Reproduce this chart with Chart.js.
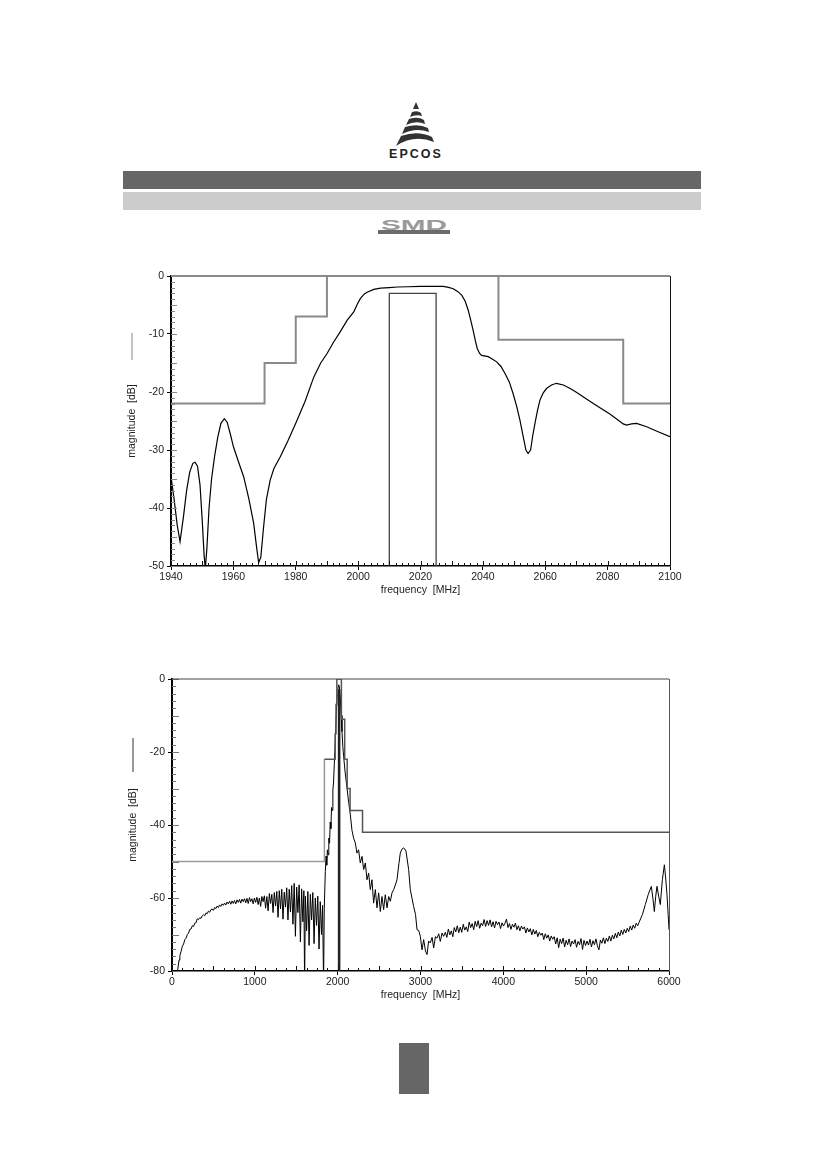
<!DOCTYPE html>
<html>
<head>
<meta charset="utf-8">
<title>EPCOS SAW filter - frequency response</title>
<script src="https://cdn.jsdelivr.net/npm/chart.js@4.4.1/dist/chart.umd.min.js"></script>
<style>
  html, body { margin: 0; padding: 0; background: #fff; }
  body { width: 826px; height: 1169px; position: relative; overflow: hidden; font-family: "Liberation Sans", Arial, sans-serif; }
  .logo { position: absolute; left: 394px; top: 102px; width: 44px; height: 46px; }
  .brand { position: absolute; left: 376px; top: 147px; width: 80px; text-align: center; font-weight: bold; font-size: 12.5px; letter-spacing: 2px; color: #222; }
  .bar-dark { position: absolute; left: 123px; top: 171px; width: 578px; height: 18px; background: #666; }
  .bar-light { position: absolute; left: 123px; top: 192px; width: 578px; height: 18px; background: #ccc; }
  .smd { position: absolute; left: 378px; top: 217px; width: 72px; height: 17px; }
  .page-tab { position: absolute; left: 399px; top: 1043px; width: 30px; height: 51px; background: #666; }
  .chart-box { position: absolute; left: 100px; width: 590px; }
  #narrowBox { top: 266px; height: 335px; }
  #wideBox { top: 669px; height: 337px; }
</style>
</head>
<body>

<svg class="logo" viewBox="0 0 44 46">
  <polygon points="22,0 25,7 19,7" fill="#333"/>
  <path d="M18,10 Q24,8 27,11 L28,14 Q22,12 16,15 Z" fill="#333"/>
  <path d="M15,17 Q24,14 30,18 L31,22 Q22,18 12,23 Z" fill="#333"/>
  <path d="M11,25 Q24,21 34,26 L35,30 Q22,25 8,32 Z" fill="#333"/>
  <path d="M7,34 Q24,28 38,35 L40,40 Q20,32 2,44 Z" fill="#333"/>
</svg>
<div class="brand">EPCOS</div>
<div class="bar-dark"></div>
<div class="bar-light"></div>
<svg class="smd" viewBox="0 0 72 17">
  <rect x="0" y="13" width="72" height="4" fill="#6b6b6b"/>
  <text x="36" y="12.5" text-anchor="middle" font-family="Liberation Sans" font-weight="bold" font-size="15" fill="#9a9a9a" textLength="66" lengthAdjust="spacingAndGlyphs">SMD</text>
</svg>

<div class="chart-box" id="narrowBox"><canvas id="narrowChart" width="590" height="335"></canvas></div>
<div class="chart-box" id="wideBox"><canvas id="wideChart" width="590" height="337"></canvas></div>

<div class="page-tab"></div>

<script>
// ---- upper plot: 1940 - 2100 MHz ----
const narrowTicksX = [1940, 1960, 1980, 2000, 2020, 2040, 2060, 2080, 2100];
const narrowTicksY = [0, -10, -20, -30, -40, -50];

// measured transfer function [MHz, dB]
const narrowResponse = [
  [1940, -34.6], [1941, -38.5], [1942, -43], [1942.9, -45.8], [1944, -41.5], [1945, -37],
  [1946, -33.8], [1947, -32.3], [1947.7, -32.1], [1948.5, -32.8], [1949.3, -36], [1950, -42],
  [1950.6, -48], [1951, -50.5], [1951.5, -47], [1952.2, -40], [1953, -35], [1954, -31],
  [1955, -27.8], [1956, -25.4], [1957.1, -24.6], [1958, -25.2], [1959, -27.2], [1960, -29.4],
  [1961.5, -31.8], [1963.3, -34.6], [1965, -38.5], [1966.5, -42.6], [1967.5, -47], [1968.1, -49.4],
  [1968.8, -48.5], [1969.7, -43.2], [1970.6, -38.5], [1971.8, -35.2], [1973, -33.2], [1975, -31.2],
  [1977.5, -28.4], [1980, -25.4], [1983, -21.6], [1985.8, -17.4], [1988, -15], [1990, -13.4],
  [1992, -11.5], [1994.3, -9.6], [1996.5, -7.6], [1998.6, -6.2], [1999.8, -4.8], [2000.7, -3.9],
  [2002, -3.1], [2002.9, -2.8], [2005, -2.3], [2007.2, -2.1], [2010, -2.0], [2012.6, -1.9],
  [2016, -1.85], [2020, -1.8], [2024, -1.8], [2027.3, -1.8], [2029, -1.95], [2030.5, -2.2],
  [2032, -2.7], [2033.2, -3.3], [2034.3, -4.3], [2035.3, -5.9], [2036.1, -7.6], [2036.9, -9.4],
  [2037.6, -11.2], [2038.2, -12.5], [2038.9, -13.3], [2039.6, -13.7], [2041.7, -13.9], [2043, -14.3],
  [2044.4, -14.8], [2045.8, -15.6], [2047.1, -16.8], [2048.5, -18.3], [2049.7, -20.3], [2050.8, -22.4],
  [2051.9, -24.9], [2052.9, -27.6], [2053.8, -30.0], [2054.5, -30.6], [2055.3, -30.0], [2056, -27.5],
  [2056.7, -25.4], [2057.5, -23.2], [2058.3, -21.4], [2059.3, -20.2], [2060.4, -19.4], [2062, -18.8],
  [2063.6, -18.5], [2065.8, -18.8], [2068, -19.4], [2070.1, -20.1], [2075.4, -22.0], [2080.7, -23.8],
  [2083, -24.7], [2085, -25.5], [2086.1, -25.7], [2087.7, -25.5], [2089.3, -25.4], [2092.5, -26.0],
  [2096, -26.8], [2100, -27.7]
];

// tolerance mask, each level holds until the next frequency
const narrowMask = [[1940, -22], [1970, -15], [1980, -7], [1990, 0], [2045, -11], [2085, -22], [2100, -22]];

// pass band marker
const passBandEdges = [2010, 2025];
const passBandLevel = -3;

// ---- lower plot: 0 - 6000 MHz ----
const wideTicksX = [0, 1000, 2000, 3000, 4000, 5000, 6000];
const wideTicksY = [0, -20, -40, -60, -80];

const wideLowBand = [
  [50, -82], [70, -79.5], [85, -77], [95, -75.8], [110, -74.6], [125, -73.2], [140, -72.6], [155, -71.4],
  [170, -71.0], [185, -70.0], [200, -69.6], [215, -68.6], [230, -68.5], [245, -67.6], [260, -67.8], [275, -66.9],
  [290, -66.8], [305, -65.7], [320, -65.9], [335, -65.4], [350, -65.6], [365, -64.9], [380, -64.6], [395, -64.9],
  [410, -64.1], [425, -64.3], [440, -63.6], [455, -63.9], [470, -63.2], [485, -63.0], [500, -63.4], [515, -62.6],
  [530, -62.9], [545, -62.2], [560, -62.6], [575, -61.9], [590, -62.3], [605, -61.6], [620, -62.0], [635, -61.4],
  [650, -61.9], [665, -61.1], [680, -61.6], [695, -60.9], [710, -61.7], [725, -60.8], [740, -61.5], [755, -60.7],
  [770, -61.6], [785, -60.5], [800, -61.2], [815, -60.4], [830, -61.4], [845, -60.3], [860, -61.0], [875, -60.2],
  [890, -61.3], [905, -60.1], [920, -61.5], [935, -59.9], [950, -61.0], [965, -60.2], [980, -61.6], [995, -60.0],
  [1010, -61.2], [1025, -59.8], [1040, -61.8], [1055, -60.0], [1070, -62.3], [1085, -59.6], [1100, -61.0], [1115, -59.4],
  [1130, -62.8], [1145, -59.6], [1160, -63.5], [1175, -58.8], [1190, -61.5], [1205, -59.0], [1220, -64.0], [1235, -58.5],
  [1250, -62.2], [1265, -58.2], [1280, -65.3], [1295, -58.0], [1310, -63.0], [1325, -57.6], [1340, -65.8], [1355, -58.4],
  [1370, -62.5], [1385, -57.2], [1400, -66.0], [1415, -57.6], [1430, -63.8], [1445, -56.6], [1460, -67.2], [1475, -56.0],
  [1490, -70.5], [1505, -57.0], [1520, -64.0], [1535, -56.4], [1550, -72.0], [1565, -57.5], [1580, -66.5], [1592, -58.0],
  [1601, -84], [1610, -59.5], [1625, -69.0], [1640, -58.2], [1655, -73.0], [1670, -59.0], [1685, -66.0], [1700, -58.5],
  [1715, -72.5], [1730, -60.0], [1745, -67.5], [1760, -59.5], [1775, -74.0], [1790, -61.0], [1805, -70.0], [1818, -62.0],
  [1830, -84], [1838, -63.0]
];

const wideFilterBand = [
  [1851, -52.7], [1860, -48.5], [1868, -51.0], [1876, -46.8], [1885, -48.2], [1893, -43.6], [1902, -45.0], [1910, -39.2],
  [1918, -41.0], [1926, -35.2], [1934, -36.0], [1942, -30.4], [1950, -28.5], [1959, -23.5], [1970, -17.5], [1983, -9.8],
  [1994, -4.5], [2004, -2.5], [2012, -1.6], [2020, -2.0], [2032, -5.2], [2042, -10.0], [2052, -14.4], [2062, -18.5],
  [2072, -21.2], [2090, -25.5], [2113, -29.9], [2133, -33.8], [2153, -37.2], [2173, -41.5], [2193, -43.6]
];

const wideHighBand = [
  [2213, -44.9], [2233, -47.7], [2253, -46.8], [2273, -50.4], [2294, -48.6], [2314, -52.2], [2334, -50.4], [2354, -55.0],
  [2374, -53.2], [2394, -57.7], [2414, -55.0], [2434, -61.4], [2455, -57.7], [2475, -62.7], [2495, -58.6], [2515, -63.7],
  [2535, -59.6], [2555, -63.2], [2575, -59.1], [2596, -62.7], [2616, -59.6], [2636, -60.9], [2656, -58.6], [2676, -57.7],
  [2700, -56.2], [2716, -55.0], [2740, -50.5], [2756, -47.7], [2776, -46.6], [2796, -46.3], [2812, -46.6], [2825, -47.2],
  [2857, -52.2], [2877, -57.7], [2917, -62.3], [2940, -64.5], [2958, -68.7], [2978, -68.9], [2998, -70.5], [3018, -74.2],
  [3038, -71.4], [3060, -74.5], [3079, -75.5], [3098, -71.8], [3118, -72.3], [3140, -70.8], [3159, -73.7], [3180, -70.6],
  [3199, -71.0], [3220, -69.8], [3239, -71.9], [3260, -69.6], [3279, -70.5]
];

const wideFloor = [
  [3300, -69.4], [3318, -70.8], [3336, -68.5], [3354, -70.1], [3372, -69.0], [3390, -70.6], [3408, -68.1], [3426, -69.3],
  [3444, -67.6], [3462, -69.5], [3480, -68.0], [3498, -69.4], [3516, -67.2], [3534, -68.8], [3552, -67.9], [3570, -69.2],
  [3588, -66.6], [3606, -68.1], [3624, -67.0], [3642, -68.7], [3660, -66.4], [3678, -67.8], [3696, -66.2], [3714, -68.3],
  [3732, -66.9], [3750, -67.6], [3768, -65.9], [3786, -67.8], [3804, -66.2], [3822, -67.5], [3840, -66.0], [3858, -67.9],
  [3876, -66.5], [3894, -68.2], [3912, -66.4], [3930, -67.3], [3948, -66.6], [3966, -68.4], [3984, -66.8], [4002, -67.7],
  [4020, -66.9], [4038, -65.8], [4056, -68.1], [4074, -67.0], [4092, -68.6], [4110, -67.2], [4128, -68.0], [4146, -66.9],
  [4164, -68.7], [4182, -67.6], [4200, -69.0], [4218, -67.7], [4236, -68.5], [4254, -67.9], [4272, -69.6], [4290, -68.2],
  [4308, -69.3], [4326, -68.4], [4344, -70.1], [4362, -68.6], [4380, -69.9], [4398, -68.9], [4416, -70.6], [4434, -69.4],
  [4452, -70.2], [4470, -69.6], [4488, -71.4], [4506, -69.8], [4524, -71.0], [4542, -70.1], [4560, -71.8], [4578, -70.4],
  [4596, -71.3], [4614, -70.6], [4632, -72.6], [4650, -70.9], [4668, -73.6], [4686, -71.3], [4704, -72.5], [4722, -71.0],
  [4740, -73.4], [4758, -71.6], [4776, -72.8], [4794, -71.2], [4812, -73.3], [4830, -71.8], [4848, -72.6], [4866, -71.4],
  [4884, -73.5], [4902, -71.9], [4920, -72.8], [4938, -71.1], [4956, -74.1], [4974, -71.6], [4992, -73.0], [5010, -71.8],
  [5028, -72.9], [5046, -71.3], [5064, -73.4], [5082, -71.7], [5100, -72.8], [5118, -71.2], [5136, -73.1], [5154, -74.2],
  [5172, -71.5], [5190, -72.4], [5208, -70.9], [5226, -72.5], [5244, -71.0], [5262, -71.9], [5280, -70.4], [5298, -71.8],
  [5316, -70.2], [5334, -71.2], [5352, -69.7], [5370, -70.9], [5388, -69.3], [5406, -70.4], [5424, -68.8], [5442, -70.0],
  [5460, -68.6], [5478, -69.6], [5496, -68.3], [5514, -69.2], [5532, -67.7], [5550, -68.8], [5568, -67.4], [5586, -68.3],
  [5604, -66.9], [5622, -67.6], [5640, -66.6], [5680, -64.5], [5714, -61.8], [5750, -59.0], [5787, -56.8], [5805, -60.0],
  [5823, -63.7], [5840, -59.5], [5855, -56.8], [5875, -59.5], [5895, -61.8], [5920, -55.0], [5944, -50.9], [5960, -54.5],
  [5976, -59.1], [5990, -64.5], [6000, -68.7]
];

const wideMask = [[0, -50], [1840, -22], [1970, -15], [1980, -7], [1990, 0], [2045, -11], [2085, -22],
                  [2115, -30], [2150, -36], [2300, -42], [6000, -42]];

const tickFont = { family: '"Liberation Sans", Arial, sans-serif', size: 10.5 };

const toPoints = pairs => pairs.map(([x, y]) => ({ x, y }));

function passBandBox(bottom) {
  return toPoints([
    [passBandEdges[0], bottom], [passBandEdges[0], passBandLevel],
    [passBandEdges[1], passBandLevel], [passBandEdges[1], bottom]
  ]);
}

// inner minor ticks, top/right frame and the little legend line next to the y title
const frameTicks = {
  id: 'frameTicks',
  afterDatasetsDraw(chart, args, o) {
    const { ctx, chartArea: a, scales: { x, y } } = chart;
    ctx.save();
    ctx.lineWidth = 1;

    ctx.strokeStyle = o.yTickColor;
    ctx.beginPath();
    for (let i = 0; y.min + i * o.yStep <= y.max + 1e-9; i++) {
      const v = y.min + i * o.yStep;
      const py = Math.round(y.getPixelForValue(v)) + 0.5;
      const len = Math.abs(v % o.yMid) < 1e-6 ? o.yMidLen : o.yLen;
      ctx.moveTo(a.left, py);
      ctx.lineTo(a.left + len, py);
    }
    ctx.stroke();

    ctx.strokeStyle = '#111';
    ctx.beginPath();
    for (let i = 0; x.min + i * o.xStep <= x.max + 1e-9; i++) {
      const v = x.min + i * o.xStep;
      const px = Math.round(x.getPixelForValue(v)) + 0.5;
      const len = Math.abs(v % o.xMid) < 1e-6 ? o.xMidLen : o.xLen;
      ctx.moveTo(px, a.bottom);
      ctx.lineTo(px, a.bottom - len);
    }
    ctx.stroke();

    ctx.strokeStyle = o.topColor;
    ctx.lineWidth = o.topWidth;
    ctx.beginPath();
    ctx.moveTo(a.left, a.top);
    ctx.lineTo(a.right, a.top);
    ctx.stroke();

    ctx.strokeStyle = o.rightColor;
    ctx.lineWidth = 1;
    ctx.beginPath();
    ctx.moveTo(a.right + 0.5, a.top);
    ctx.lineTo(a.right + 0.5, a.bottom);
    ctx.stroke();

    const mid = (a.top + a.bottom) / 2;
    ctx.strokeStyle = o.legendColor;
    ctx.beginPath();
    ctx.moveTo(o.legendX, mid + o.legendFrom);
    ctx.lineTo(o.legendX, mid + o.legendTo);
    ctx.stroke();
    ctx.restore();
  }
};

function scalesFor(xTicks, yTicks, yWidth, yTitlePad) {
  return {
    x: {
      type: 'linear',
      min: xTicks[0],
      max: xTicks[xTicks.length - 1],
      afterBuildTicks: s => { s.ticks = xTicks.map(v => ({ value: v })); },
      afterFit: s => { s.height = 35; },
      border: { display: true, color: '#000', width: 1.5 },
      grid: { display: true, drawOnChartArea: false, drawTicks: true, tickLength: 4, tickColor: '#000', color: 'rgba(0,0,0,0)' },
      ticks: { autoSkip: false, maxRotation: 0, padding: 1, color: '#222', font: tickFont, callback: v => String(v) },
      title: { display: true, text: 'frequency  [MHz]', color: '#222', font: tickFont, padding: { top: 0, bottom: 5 } }
    },
    y: {
      type: 'linear',
      min: yTicks[yTicks.length - 1],
      max: yTicks[0],
      afterBuildTicks: s => { s.ticks = yTicks.slice().reverse().map(v => ({ value: v })); },
      afterFit: s => { s.width = yWidth; },
      border: { display: true, color: '#000', width: 2 },
      grid: { display: true, drawOnChartArea: false, drawTicks: true, tickLength: 4, tickColor: '#000', color: 'rgba(0,0,0,0)' },
      ticks: { autoSkip: false, padding: 3, color: '#222', font: tickFont, callback: v => String(v) },
      title: { display: true, text: 'magnitude  [dB]', color: '#222', font: tickFont, padding: { top: yTitlePad, bottom: 0 } }
    }
  };
}

const lineBase = { pointRadius: 0, tension: 0, fill: false };

new Chart(document.getElementById('narrowChart'), {
  type: 'line',
  data: {
    datasets: [
      { ...lineBase, data: toPoints(narrowMask), stepped: 'before', borderColor: '#8a8a8a', borderWidth: 2 },
      { ...lineBase, data: passBandBox(narrowTicksY[narrowTicksY.length - 1]), borderColor: '#444', borderWidth: 1.3 },
      { ...lineBase, data: toPoints(narrowResponse), borderColor: '#000', borderWidth: 1.2 }
    ]
  },
  options: {
    responsive: false,
    animation: false,
    layout: { padding: { top: 10, right: 20, bottom: 0, left: 0 } },
    scales: scalesFor(narrowTicksX, narrowTicksY, 71, 26),
    plugins: {
      legend: { display: false },
      tooltip: { enabled: false },
      frameTicks: {
        yStep: 1, yMid: 5, yLen: 4, yMidLen: 6, yTickColor: '#888',
        xStep: 2, xMid: 10, xLen: 3, xMidLen: 5,
        topColor: '#8a8a8a', topWidth: 2, rightColor: '#111',
        legendX: 32, legendColor: '#888', legendFrom: -88, legendTo: -61
      }
    }
  },
  plugins: [frameTicks]
});

new Chart(document.getElementById('wideChart'), {
  type: 'line',
  data: {
    datasets: [
      {
        ...lineBase, data: toPoints(wideMask), stepped: 'before', borderWidth: 1.5, borderColor: '#555',
        segment: { borderColor: c => (c.p0.parsed.y === -50 ? '#9a9a9a' : '#555') }
      },
      { ...lineBase, data: passBandBox(wideTicksY[wideTicksY.length - 1]), borderColor: '#222', borderWidth: 1.3 },
      {
        ...lineBase,
        data: toPoints([...wideLowBand, ...wideFilterBand, ...wideHighBand, ...wideFloor]),
        borderColor: '#000', borderWidth: 1
      }
    ]
  },
  options: {
    responsive: false,
    animation: false,
    layout: { padding: { top: 10, right: 21, bottom: 0, left: 0 } },
    scales: scalesFor(wideTicksX, wideTicksY, 72, 27),
    plugins: {
      legend: { display: false },
      tooltip: { enabled: false },
      frameTicks: {
        yStep: 2, yMid: 10, yLen: 4, yMidLen: 7, yTickColor: '#777',
        xStep: 125, xMid: 500, xLen: 3, xMidLen: 5,
        topColor: '#444', topWidth: 1, rightColor: '#555',
        legendX: 33, legendColor: '#333', legendFrom: -87, legendTo: -53
      }
    }
  },
  plugins: [frameTicks]
});
</script>
</body>
</html>
